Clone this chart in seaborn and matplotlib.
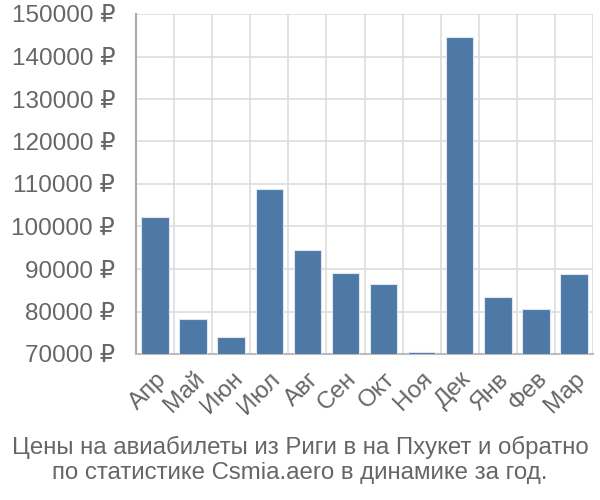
import matplotlib
matplotlib.use("Agg")
import matplotlib.pyplot as plt
import seaborn as sns
import pandas as pd
from matplotlib.ticker import FixedLocator, FuncFormatter

months = ["Апр", "Май", "Июн", "Июл", "Авг", "Сен", "Окт", "Ноя", "Дек", "Янв", "Фев", "Мар"]
prices = [102200, 78200, 74000, 108800, 94500, 89000, 86400, 70500, 144600, 83400, 80700, 88900]
yticks = [70000, 80000, 90000, 100000, 110000, 120000, 130000, 140000, 150000]
title_lines = ["Цены на авиабилеты из Риги в на Пхукет и обратно",
               "по статистике Csmia.aero в динамике за год."]

sns.set_theme(style="white")
plt.rcParams['font.family'] = ['Liberation Sans', 'DejaVu Sans']

df = pd.DataFrame({"month": months, "price": prices})

fig = plt.figure(figsize=(6, 5), dpi=100)
ax = fig.add_axes([136/600, 1 - 354/500, (593-136)/600, (354-14)/500])

sns.barplot(data=df, x="month", y="price", color="#4e79a7", saturation=1,
            width=0.72, edgecolor="#dce6f0", linewidth=0.8, ax=ax, zorder=3)

ax.set_ylim(70000, 150000)
ax.set_xlim(-0.5, len(months) - 0.5)
ax.set_yticks(yticks)
ax.yaxis.set_major_formatter(FuncFormatter(lambda v, p: f"{int(v)} ₽"))
ax.xaxis.set_minor_locator(FixedLocator([i - 0.5 for i in range(len(months) + 1)]))
ax.grid(True, axis="y", which="major", color="#dddddd", linewidth=1.2, zorder=0)
ax.grid(True, axis="x", which="minor", color="#dddddd", linewidth=1.2, zorder=0)
ax.tick_params(axis="y", which="major", length=14, color="#dddddd", width=1.2,
               labelsize=17.5, labelcolor="#666666", pad=1)
ax.tick_params(axis="x", which="major", length=0, labelsize=17.5, labelcolor="#666666", pad=10)
ax.tick_params(axis="x", which="minor", length=14, color="#dddddd", width=1.2)
plt.setp(ax.get_xticklabels(), rotation=45, ha="right", rotation_mode="anchor")

for s in ["top", "right"]:
    ax.spines[s].set_visible(False)
ax.spines["left"].set_color("#aaaaaa")
ax.spines["left"].set_linewidth(1.5)
ax.spines["bottom"].set_color("#bbbbbb")
ax.spines["bottom"].set_linewidth(1.5)
ax.set_xlabel("")
ax.set_ylabel("")

fig.text(0.5, 1 - 447/500, title_lines[0], ha="center", va="center", fontsize=17.3, color="#666666")
fig.text(0.5, 1 - 473/500, title_lines[1], ha="center", va="center", fontsize=17.3, color="#666666")

fig.savefig("out.png", dpi=100)
